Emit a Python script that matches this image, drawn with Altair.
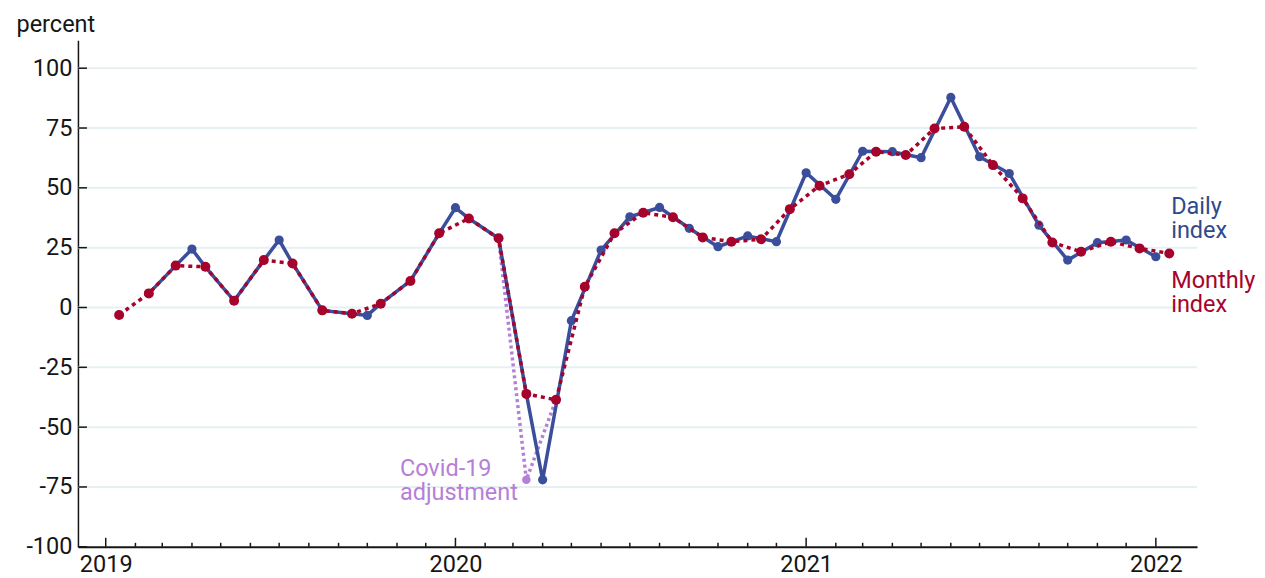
import altair as alt
import pandas as pd

# ---------------- data ----------------
monthly_dates = [f"{y}-{m:02d}-15" for y in (2019, 2020, 2021) for m in range(1, 13)] + ["2022-01-15"]
monthly_values = [-3.1, 5.9, 17.5, 17.0, 2.8, 19.8, 18.4, -1.2, -2.6, 1.6, 11.1, 31.0,
                  37.2, 28.9, -36.1, -38.6, 8.7, 31.0, 39.6, 37.7, 29.3, 27.5, 28.5, 41.1,
                  50.9, 55.7, 65.1, 63.7, 74.8, 75.5, 59.5, 45.6, 27.2, 23.3, 27.5, 24.7,
                  22.6]

daily_dates = ["2019-02-15", "2019-03-15", "2019-04-01", "2019-04-15", "2019-05-15",
               "2019-06-15", "2019-07-01", "2019-07-15", "2019-08-15", "2019-09-15",
               "2019-10-01", "2019-10-15", "2019-11-15", "2019-12-15", "2020-01-01",
               "2020-01-15", "2020-02-15", "2020-03-15", "2020-04-01", "2020-05-01",
               "2020-06-01", "2020-07-01", "2020-08-01", "2020-09-01", "2020-10-01",
               "2020-11-01", "2020-12-01", "2021-01-01", "2021-02-01", "2021-03-01",
               "2021-04-01", "2021-05-01", "2021-06-01", "2021-07-01", "2021-08-01",
               "2021-09-01", "2021-10-01", "2021-11-01", "2021-12-01", "2022-01-01"]
daily_values = [5.9, 17.5, 24.4, 17.0, 2.8,
                19.8, 28.2, 18.4, -1.2, -2.6,
                -3.3, 1.6, 11.1, 31.0, 41.7,
                37.2, 28.9, -36.1, -72.0, -5.5,
                24.0, 37.9, 41.8, 33.1, 25.4,
                29.9, 27.5, 56.3, 45.2, 65.3,
                65.1, 62.6, 87.8, 63.0, 56.0,
                34.4, 19.8, 27.1, 28.2, 21.2]

covid_dates = ["2020-02-15", "2020-03-15", "2020-04-15"]
covid_values = [28.9, -72.0, -38.6]

y_ticks = [-100, -75, -50, -25, 0, 25, 50, 75, 100]
grid_values = [-75, -50, -25, 0, 25, 50, 75, 100]
years = [2019, 2020, 2021, 2022]
tick_months = [f"{y}-{m:02d}-01" for y in (2019, 2020, 2021) for m in range(1, 13)] + ["2022-01-01"]

# ---------------- styling ----------------
BLUE = "#3a4e9c"
BLUE_TXT = "#2f4a8a"
RED = "#a5032b"
PURPLE = "#b57fd8"
GRID = "#e6eff1"
INK = "#161616"
FONT = "Roboto"
FS = 23.5
W, H = 1120, 507

def ts(s):
    return s + "T00:00:00"

monthly = pd.DataFrame({"date": [ts(d) for d in monthly_dates], "v": monthly_values})
daily = pd.DataFrame({"date": [ts(d) for d in daily_dates], "v": daily_values})
daily_dots = daily[[d.endswith("-01") for d in daily_dates]]
covid = pd.DataFrame({"date": [ts(d) for d in covid_dates], "v": covid_values})
covid_dot = covid.iloc[[1]]
grid_df = pd.DataFrame({"v": grid_values})
ytick_df = pd.DataFrame({"v": y_ticks})
mt = pd.DataFrame({"date": [ts(d) for d in tick_months]})
month_ticks = mt[[not d.endswith("-01-01") for d in tick_months]]
year_ticks = mt[[d.endswith("-01-01") for d in tick_months]]

X = alt.X(
    "date:T",
    scale=alt.Scale(domain=[alt.DateTime(year=2018, month=12, date=3),
                            alt.DateTime(year=2022, month=2, date=13)]),
    axis=alt.Axis(
        values=[alt.DateTime(year=y, month=1, date=1) for y in years],
        format="%Y", ticks=False, grid=False, title=None,
        domainColor=INK, domainWidth=2,
        labelFont=FONT, labelFontSize=FS, labelColor=INK, labelPadding=6,
    ),
)
Y = alt.Y(
    "v:Q",
    scale=alt.Scale(domain=[-100, 111.7], nice=False, zero=False),
    axis=alt.Axis(
        values=y_ticks, ticks=False, grid=False,
        domainColor=INK, domainWidth=1.5,
        labelFont=FONT, labelFontSize=FS, labelColor=INK, labelPadding=6,
        labelExpr="toString(datum.value)",
        title="percent", titleAngle=0, titleAlign="left", titleBaseline="alphabetic",
        titleX=-62, titleY=-9, titleFont=FONT, titleFontSize=FS,
        titleFontWeight="normal", titleColor=INK,
    ),
)

grid = alt.Chart(grid_df).mark_rule(color=GRID, strokeWidth=2).encode(
    y=Y, x=alt.value(0), x2=alt.value(W))

covid_line = alt.Chart(covid).mark_line(color=PURPLE, strokeWidth=3.5, strokeDash=[3, 3]).encode(x=X, y=Y)
covid_pt = alt.Chart(covid_dot).mark_circle(color=PURPLE, size=72, opacity=1).encode(x=X, y=Y)

daily_line = alt.Chart(daily).mark_line(color=BLUE, strokeWidth=3.5).encode(x=X, y=Y)
daily_pts = alt.Chart(daily_dots).mark_circle(color=BLUE, size=85, opacity=1).encode(x=X, y=Y)

monthly_line = alt.Chart(monthly).mark_line(color=RED, strokeWidth=3.5, strokeDash=[4, 4]).encode(x=X, y=Y)
monthly_pts = alt.Chart(monthly).mark_circle(color=RED, size=100, opacity=1).encode(x=X, y=Y)

yt = alt.Chart(ytick_df).mark_rule(color=INK, strokeWidth=1.5).encode(
    y=Y, x=alt.value(0), x2=alt.value(9))
mticks = alt.Chart(month_ticks).mark_rule(color=INK, strokeWidth=1.5).encode(
    x=X, y=alt.value(H), y2=alt.value(H - 4))
yticks_x = alt.Chart(year_ticks).mark_rule(color=INK, strokeWidth=1.5).encode(
    x=X, y=alt.value(H), y2=alt.value(H - 9))

lab_df = pd.DataFrame({
    "date": [ts("2022-01-17"), ts("2022-01-17"), ts("2019-11-04")],
    "v": [39.0, 8.1, -70.6],
    "txt": [["Daily", "index"], ["Monthly", "index"], ["Covid-19", "adjustment"]],
    "who": ["daily", "monthly", "covid"],
})
labels = alt.Chart(lab_df).mark_text(
    align="left", baseline="alphabetic", font=FONT, fontSize=FS, lineHeight=24
).encode(
    x=X, y=Y, text="txt",
    color=alt.Color("who:N", scale=alt.Scale(domain=["daily", "monthly", "covid"],
                                             range=[BLUE_TXT, RED, PURPLE]), legend=None),
)

chart = alt.layer(
    grid, covid_line, daily_line, daily_pts, monthly_line, monthly_pts, covid_pt,
    yt, mticks, yticks_x, labels,
).properties(
    width=W, height=H,
    autosize=alt.AutoSizeParams(type="none"),
    padding={"left": 70, "top": 32, "right": 60, "bottom": 30},
    background="white",
).configure_view(stroke=None)

chart.save("out.html", embed_options={"renderer": "svg", "actions": False})
